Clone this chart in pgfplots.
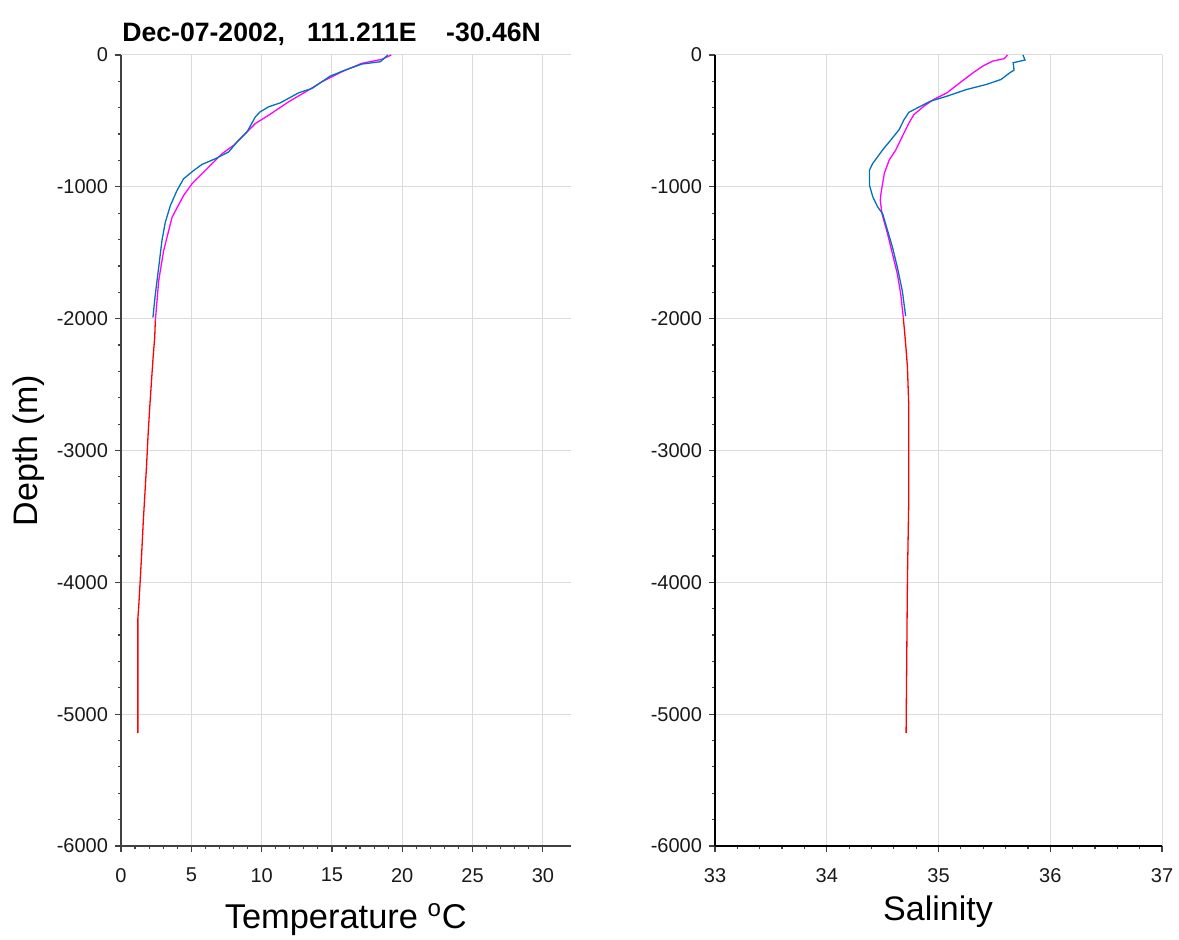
\documentclass[border=0pt]{standalone}
\usepackage{fontspec}
\setmainfont{Liberation Sans}
\usepackage{pgfplots}
\pgfplotsset{compat=1.18}
\definecolor{cblue}{RGB}{0,114,189}
\definecolor{cmag}{RGB}{255,0,255}
\definecolor{cred}{RGB}{255,0,0}
\pgfplotsset{prof/.style={
  scale only axis, height=395.5pt, ymin=-6000, ymax=0,
  axis x line=bottom, axis y line=left,
  axis line style={-, line width=0.75pt, black!75},
  tick align=outside, major tick length=3pt, minor tick length=1.3pt,
  tick style={black!75, line width=0.6pt},
  grid=major, major grid style={black!14, line width=0.5pt},
  ytick={-6000,-5000,...,0},
  yticklabels={-6000,-5000,-4000,-3000,-2000,-1000,0},
  minor y tick num=4, minor x tick num=4,
  tick label style={font=\fontsize{10}{12}\selectfont, black!90},
  xticklabel style={yshift=-4.5pt},
  clip=false,
  every axis plot/.append style={line width=0.65pt, mark=none}
}}
\begin{document}
\begin{tikzpicture}
\begin{axis}[prof, at={(0,0)}, anchor=south west, width=225pt,
  xmin=0, xmax=32, xtick={0,5,...,30}, xticklabels={0,5,10,15,20,25,30}]
\addplot[cred] coordinates {
(2.44,-2018) (2.40,-2136) (2.28,-2298) (2.16,-2488) (2.04,-2678) (1.92,-2894)
(1.82,-3111) (1.70,-3328) (1.58,-3545) (1.48,-3762) (1.37,-3978) (1.27,-4168)
(1.20,-4276) (1.20,-5144)};
\addplot[cmag] coordinates {
(19.22,0) (18.55,-33) (17.13,-63) (15.71,-127) (14.29,-203) (13.34,-266)
(11.92,-355) (10.5,-457) (9.55,-520) (8.72,-609) (8.01,-685) (7.18,-749)
(5.99,-876) (5.05,-977) (4.45,-1066) (3.63,-1231) (3.03,-1485) (2.68,-1713)
(2.44,-2018)};
\addplot[cblue] coordinates {
(18.98,0) (18.44,-51) (17.13,-69) (15.95,-114) (14.88,-160) (13.58,-254)
(12.63,-287) (11.33,-363) (10.5,-393) (9.9,-431) (9.55,-470) (8.96,-584)
(8.25,-660) (7.65,-736) (6.71,-787) (5.76,-830) (5.17,-876) (4.45,-939)
(3.98,-1028) (3.51,-1142) (3.15,-1269) (2.91,-1409) (2.68,-1612) (2.44,-1815)
(2.27,-1992)};
\end{axis}
\begin{axis}[prof, at={(297pt,0)}, anchor=south west, width=223.5pt,
  xmin=33, xmax=37, xtick={33,34,35,36,37}, xticklabels={33,34,35,36,37},
  axis line style={-, line width=0.75pt, black}]
\addplot[cred] coordinates {
(34.685,-1992) (34.696,-2095) (34.707,-2203) (34.722,-2366)
(34.734,-2664) (34.734,-3369) (34.722,-3978) (34.710,-5144)};
\addplot[cmag] coordinates {
(35.618,0) (35.588,-28) (35.485,-46) (35.397,-84) (35.309,-135) (35.191,-211)
(35.074,-288) (34.956,-338) (34.868,-389) (34.779,-453) (34.735,-517)
(34.676,-618) (34.618,-720) (34.559,-796) (34.515,-898) (34.485,-1051)
(34.479,-1102) (34.494,-1204) (34.544,-1356) (34.588,-1509) (34.632,-1662)
(34.662,-1814) (34.685,-1992)};
\addplot[cblue] coordinates {
(35.756,0) (35.774,-38) (35.668,-59) (35.676,-115) (35.638,-135) (35.559,-186)
(35.426,-224) (35.25,-262) (35.074,-313) (34.926,-351) (34.809,-402)
(34.735,-435) (34.691,-491) (34.647,-567) (34.574,-644) (34.5,-720)
(34.412,-822) (34.382,-873) (34.382,-987) (34.412,-1076) (34.456,-1153)
(34.5,-1204) (34.544,-1331) (34.588,-1458) (34.632,-1611) (34.676,-1789)
(34.706,-1980)};
\end{axis}
\node[anchor=base west, font=\fontsize{13.3}{15}\selectfont\bfseries, inner sep=0pt]
  at (0.5pt,402pt) {Dec-07-2002,\ \ \ 111.211E\ \ \ \ -30.46N};
\node[anchor=base, font=\fontsize{17.2}{19}\selectfont, inner sep=0pt]
  at (112.4pt,-41.5pt) {Temperature \textsuperscript{o}C};
\node[anchor=base, font=\fontsize{17}{19}\selectfont, inner sep=0pt]
  at (408.5pt,-37.5pt) {Salinity};
\node[rotate=90, anchor=base, font=\fontsize{17}{19}\selectfont, inner sep=0pt]
  at (-41.5pt,197.75pt) {Depth (m)};
\pgfresetboundingbox
\path[use as bounding box] (-60.5pt,-47pt) rectangle (529pt,423pt);
\end{tikzpicture}
\end{document}
